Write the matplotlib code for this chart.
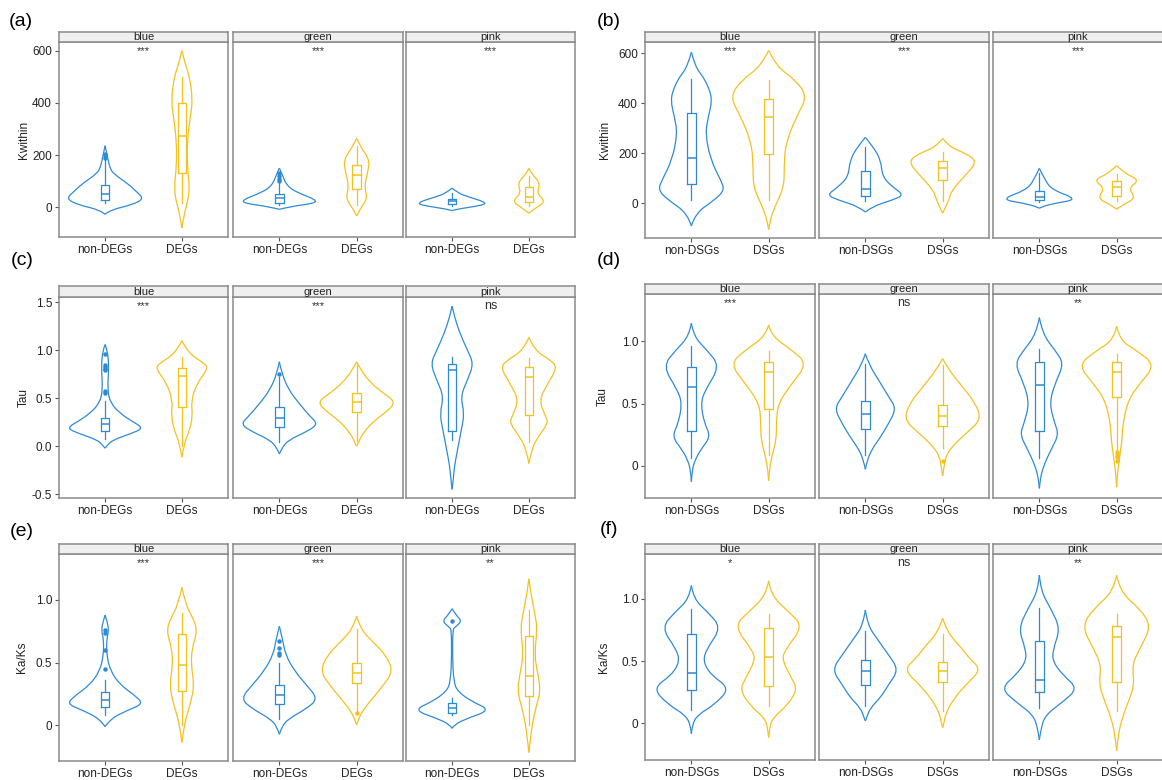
import matplotlib.pyplot as plt
from matplotlib.path import Path
from matplotlib.patches import PathPatch

plt.rcParams['font.family'] = ['Liberation Sans', 'DejaVu Sans']

W, H = 1162, 780
BLUE = '#2F8AD6'
GOLD = '#F5C11E'
EDGE = '#8a8a8a'

FACETS = ['blue', 'green', 'pink']
DE_GROUPS = ['non-DEGs', 'DEGs']
DS_GROUPS = ['non-DSGs', 'DSGs']

# each facet holds two groups: index 2*facet + group
# box stats: whisker low, q1, median, q3, whisker high
# violin: (value, half width) read from top tip to bottom tip

# (a) Kwithin, DEGs
a_sig = ['***', '***', '***']
a_box = [[15, 28, 50, 85, 180], [15, 130, 273, 400, 500],
         [10, 18, 34, 50, 95], [10, 69, 124, 162, 235],
         [3, 12, 23, 31, 55], [5, 19, 41, 79, 118]]
a_out = [[190, 200, 205], [], [100, 110, 120, 130], [], [], []]
a_vio = [
    [(236, 0), (180, 0.04), (155, 0.06), (130, 0.1), (92, 0.29), (54, 0.43), (32, 0.5), (9, 0.35), (-10, 0.07), (-27, 0)],
    [(600, 0), (550, 0.04), (500, 0.1), (411, 0.14), (347, 0.11), (258, 0.07), (156, 0.07), (80, 0.1), (28, 0.08), (-23, 0.03), (-80, 0)],
    [(150, 0), (130, 0.03), (80, 0.1), (54, 0.25), (28, 0.48), (15, 0.45), (3, 0.15), (-8, 0)],
    [(264, 0), (232, 0.05), (181, 0.17), (130, 0.14), (80, 0.1), (34, 0.14), (-4, 0.05), (-33, 0)],
    [(73, 0), (54, 0.08), (41, 0.2), (15, 0.48), (3, 0.3), (-8, 0.05), (-13, 0)],
    [(149, 0), (130, 0.03), (92, 0.15), (54, 0.1), (22, 0.22), (-4, 0.08), (-23, 0)],
]

# (b) Kwithin, DSGs
b_sig = ['***', '***', '***']
b_box = [[12, 75, 179, 360, 497], [12, 195, 343, 417, 493],
         [10, 29, 57, 127, 225], [10, 92, 139, 168, 205],
         [5, 12, 25, 49, 120], [10, 28, 65, 88, 115]]
b_out = [[], [], [], [], [], []]
b_vio = [
    [(604, 0), (547, 0.05), (506, 0.15), (466, 0.22), (413, 0.27), (346, 0.22), (279, 0.18), (172, 0.25), (92, 0.38), (52, 0.43), (12, 0.3), (-41, 0.05), (-92, 0)],
    [(611, 0), (547, 0.1), (493, 0.35), (426, 0.5), (346, 0.36), (239, 0.22), (146, 0.2), (65, 0.2), (-15, 0.08), (-68, 0.02), (-106, 0)],
    [(263, 0), (226, 0.1), (172, 0.2), (106, 0.22), (65, 0.35), (32, 0.5), (12, 0.35), (-15, 0.08), (-36, 0)],
    [(259, 0), (226, 0.08), (199, 0.3), (166, 0.45), (106, 0.28), (52, 0.12), (12, 0.08), (-21, 0.03), (-41, 0)],
    [(139, 0), (92, 0.07), (52, 0.17), (15, 0.5), (-1, 0.2), (-15, 0.03), (-21, 0)],
    [(150, 0), (119, 0.1), (92, 0.3), (59, 0.15), (19, 0.25), (-8, 0.07), (-25, 0)],
]

# (c) Tau, DEGs
c_sig = ['***', '***', 'ns']
c_box = [[0.08, 0.16, 0.23, 0.29, 0.47], [0.0, 0.41, 0.73, 0.82, 0.93],
         [0.04, 0.205, 0.29, 0.405, 0.72], [0.05, 0.36, 0.465, 0.55, 0.85],
         [0.07, 0.16, 0.79, 0.855, 0.93], [0.04, 0.325, 0.72, 0.83, 0.92]]
c_out = [[0.55, 0.58, 0.79, 0.81, 0.83, 0.85, 0.96], [], [0.75], [], [], []]
c_vio = [
    [(1.06, 0), (1.0, 0.03), (0.83, 0.05), (0.59, 0.03), (0.45, 0.07), (0.34, 0.2), (0.26, 0.35), (0.19, 0.5), (0.135, 0.35), (0.066, 0.1), (0.01, 0.03), (-0.02, 0)],
    [(1.10, 0), (0.97, 0.08), (0.86, 0.3), (0.81, 0.34), (0.66, 0.2), (0.48, 0.12), (0.31, 0.14), (0.17, 0.1), (0.03, 0.03), (-0.115, 0)],
    [(0.88, 0), (0.76, 0.03), (0.59, 0.12), (0.45, 0.25), (0.31, 0.4), (0.23, 0.5), (0.15, 0.35), (0.066, 0.12), (-0.02, 0.03), (-0.08, 0)],
    [(0.88, 0), (0.8, 0.05), (0.66, 0.18), (0.55, 0.35), (0.465, 0.5), (0.38, 0.42), (0.27, 0.23), (0.135, 0.08), (0.05, 0.03), (0.0, 0)],
    [(1.46, 0), (1.35, 0.03), (1.18, 0.1), (1.0, 0.2), (0.86, 0.28), (0.69, 0.2), (0.52, 0.11), (0.34, 0.16), (0.17, 0.12), (-0.04, 0.07), (-0.21, 0.03), (-0.39, 0.01), (-0.45, 0)],
    [(1.135, 0), (1.0, 0.07), (0.9, 0.28), (0.82, 0.37), (0.66, 0.25), (0.48, 0.13), (0.31, 0.22), (0.24, 0.25), (0.1, 0.12), (-0.04, 0.03), (-0.18, 0)],
]

# (d) Tau, DSGs
d_sig = ['***', 'ns', '**']
d_box = [[0.06, 0.28, 0.636, 0.79, 0.96], [0.09, 0.46, 0.754, 0.837, 0.92],
         [0.09, 0.294, 0.415, 0.524, 0.82], [0.14, 0.32, 0.404, 0.49, 0.81],
         [0.06, 0.28, 0.65, 0.83, 0.94], [0.12, 0.55, 0.757, 0.83, 0.9]]
d_out = [[], [], [], [0.04], [], [0.04, 0.07, 0.09, 0.11]]
d_vio = [
    [(1.145, 0), (1.04, 0.03), (0.93, 0.2), (0.8, 0.37), (0.61, 0.18), (0.5, 0.12), (0.34, 0.17), (0.235, 0.25), (0.13, 0.12), (0.05, 0.05), (-0.03, 0.01), (-0.126, 0)],
    [(1.13, 0), (1.04, 0.04), (0.93, 0.3), (0.82, 0.5), (0.66, 0.3), (0.5, 0.12), (0.34, 0.1), (0.21, 0.1), (0.075, 0.04), (-0.03, 0.01), (-0.118, 0)],
    [(0.9, 0), (0.82, 0.04), (0.66, 0.2), (0.556, 0.3), (0.46, 0.4), (0.34, 0.3), (0.235, 0.2), (0.13, 0.08), (0.035, 0.02), (-0.027, 0)],
    [(0.86, 0), (0.77, 0.08), (0.64, 0.25), (0.5, 0.43), (0.37, 0.5), (0.26, 0.3), (0.155, 0.12), (0.075, 0.04), (0.0, 0.02), (-0.08, 0)],
    [(1.19, 0), (1.06, 0.04), (0.93, 0.2), (0.82, 0.32), (0.66, 0.2), (0.5, 0.13), (0.34, 0.2), (0.25, 0.25), (0.13, 0.15), (-0.005, 0.05), (-0.11, 0.01), (-0.18, 0)],
    [(1.12, 0), (1.01, 0.04), (0.93, 0.25), (0.81, 0.5), (0.66, 0.3), (0.53, 0.15), (0.34, 0.08), (0.21, 0.07), (0.075, 0.04), (-0.06, 0.01), (-0.17, 0)],
]

# (e) Ka/Ks, DEGs
e_sig = ['***', '***', '**']
e_box = [[0.08, 0.147, 0.2, 0.267, 0.36], [0.0, 0.27, 0.48, 0.73, 0.9],
         [0.05, 0.168, 0.24, 0.32, 0.5], [0.1, 0.34, 0.42, 0.5, 0.77],
         [0.08, 0.1, 0.133, 0.173, 0.22], [0.0, 0.235, 0.395, 0.71, 0.92]]
e_out = [[0.45, 0.6, 0.74, 0.76], [], [0.56, 0.58, 0.62, 0.67], [0.1], [0.83], []]
e_vio = [
    [(0.88, 0), (0.84, 0.02), (0.76, 0.05), (0.69, 0.02), (0.56, 0.02), (0.43, 0.07), (0.32, 0.2), (0.24, 0.38), (0.17, 0.5), (0.12, 0.3), (0.05, 0.07), (-0.013, 0)],
    [(1.10, 0), (0.96, 0.05), (0.85, 0.15), (0.75, 0.2), (0.61, 0.13), (0.48, 0.12), (0.32, 0.16), (0.19, 0.12), (0.05, 0.05), (-0.05, 0.02), (-0.14, 0)],
    [(0.79, 0), (0.69, 0.04), (0.56, 0.08), (0.43, 0.2), (0.32, 0.35), (0.21, 0.5), (0.13, 0.35), (0.05, 0.12), (-0.013, 0.03), (-0.075, 0)],
    [(0.87, 0), (0.77, 0.05), (0.67, 0.2), (0.56, 0.38), (0.43, 0.47), (0.32, 0.35), (0.21, 0.2), (0.107, 0.07), (0.04, 0.02), (0.0, 0)],
    [(0.93, 0), (0.88, 0.05), (0.83, 0.13), (0.78, 0.03), (0.76, 0.01), (0.56, 0.005), (0.35, 0.02), (0.27, 0.07), (0.19, 0.25), (0.12, 0.5), (0.053, 0.2), (0.005, 0.03), (-0.027, 0)],
    [(1.17, 0), (1.07, 0.02), (0.88, 0.08), (0.77, 0.11), (0.56, 0.07), (0.4, 0.12), (0.27, 0.15), (0.16, 0.1), (0.027, 0.05), (-0.107, 0.02), (-0.22, 0)],
]

# (f) Ka/Ks, DSGs
f_sig = ['*', 'ns', '**']
f_box = [[0.11, 0.27, 0.4, 0.72, 0.92], [0.14, 0.3, 0.536, 0.764, 0.88],
         [0.14, 0.306, 0.418, 0.507, 0.74], [0.1, 0.33, 0.418, 0.496, 0.72],
         [0.12, 0.255, 0.346, 0.665, 0.93], [0.1, 0.335, 0.697, 0.785, 0.88]]
f_out = [[], [], [], [], [], []]
f_vio = [
    [(1.107, 0), (1.0, 0.03), (0.9, 0.2), (0.77, 0.39), (0.6, 0.2), (0.5, 0.15), (0.39, 0.25), (0.28, 0.5), (0.15, 0.3), (0.067, 0.08), (-0.013, 0.01), (-0.083, 0)],
    [(1.145, 0), (1.03, 0.03), (0.9, 0.25), (0.78, 0.45), (0.58, 0.2), (0.5, 0.18), (0.36, 0.3), (0.27, 0.37), (0.15, 0.25), (0.04, 0.05), (-0.04, 0.01), (-0.115, 0)],
    [(0.91, 0), (0.79, 0.03), (0.68, 0.15), (0.55, 0.3), (0.43, 0.43), (0.31, 0.3), (0.21, 0.2), (0.12, 0.06), (0.05, 0.02), (0.019, 0)],
    [(0.845, 0), (0.74, 0.05), (0.6, 0.25), (0.52, 0.35), (0.43, 0.5), (0.31, 0.3), (0.2, 0.15), (0.094, 0.05), (0.013, 0.02), (-0.035, 0)],
    [(1.19, 0), (1.06, 0.02), (0.92, 0.15), (0.76, 0.27), (0.6, 0.18), (0.5, 0.17), (0.39, 0.3), (0.28, 0.5), (0.17, 0.3), (0.067, 0.08), (-0.04, 0.02), (-0.134, 0)],
    [(1.19, 0), (1.06, 0.04), (0.92, 0.3), (0.78, 0.45), (0.6, 0.3), (0.47, 0.2), (0.31, 0.23), (0.17, 0.15), (0.04, 0.07), (-0.094, 0.02), (-0.22, 0)],
]

# pixel layout
LEFT_COLS = [(59, 228), (233, 403), (406, 575)]
RIGHT_COLS = [(645, 815), (819, 989), (993, 1163)]

panels = [
    # label, label xy, groups, ylabel, ylabel x px, ylim, ticks, ticklabels, cols, strip top, strip bottom, axes bottom, data
    ('(a)', (21, 21), DE_GROUPS, 'Kwithin', 30, (-114, 633), [0, 200, 400, 600], ['0', '200', '400', '600'],
     LEFT_COLS, 32, 42, 237, a_sig, a_box, a_out, a_vio),
    ('(b)', (609, 21), DS_GROUPS, 'Kwithin', 611, (-140, 645), [0, 200, 400, 600], ['0', '200', '400', '600'],
     RIGHT_COLS, 32, 42, 238, b_sig, b_box, b_out, b_vio),
    ('(c)', (22, 261), DE_GROUPS, 'Tau', 30, (-0.539, 1.555), [-0.5, 0, 0.5, 1.0, 1.5], ['-0.5', '0.0', '0.5', '1.0', '1.5'],
     LEFT_COLS, 286, 297, 498, c_sig, c_box, c_out, c_vio),
    ('(d)', (609, 261), DS_GROUPS, 'Tau', 609, (-0.257, 1.379), [0, 0.5, 1.0], ['0', '0.5', '1.0'],
     RIGHT_COLS, 284, 294, 498, d_sig, d_box, d_out, d_vio),
    ('(e)', (22, 532), DE_GROUPS, 'Ka/Ks', 28, (-0.288, 1.368), [0, 0.5, 1.0], ['0', '0.5', '1.0'],
     LEFT_COLS, 544, 554, 761, e_sig, e_box, e_out, e_vio),
    ('(f)', (609, 530), DS_GROUPS, 'Ka/Ks', 610, (-0.295, 1.36), [0, 0.5, 1.0], ['0', '0.5', '1.0'],
     RIGHT_COLS, 544, 554, 760, f_sig, f_box, f_out, f_vio),
]


def px_axes(fig, x0, y0, x1, y1):
    return fig.add_axes([x0 / W, 1 - y1 / H, (x1 - x0) / W, (y1 - y0) / H])


def smooth_side(pts):
    # quadratic bezier through the read points: each inner point is a control point
    verts = [pts[0]]
    codes = [Path.MOVETO]
    for a, b in zip(pts[1:-2], pts[2:-1]):
        mid = ((a[0] + b[0]) / 2, (a[1] + b[1]) / 2)
        verts += [a, mid]
        codes += [Path.CURVE3, Path.CURVE3]
    verts += [pts[-2], pts[-1]]
    codes += [Path.CURVE3, Path.CURVE3]
    return verts, codes


def draw_violin(ax, pos, profile, color):
    right = [(pos + w, y) for y, w in profile]
    left = [(pos - w, y) for y, w in profile]
    vr, cr = smooth_side(right)
    vl, cl = smooth_side(left)
    ax.add_patch(PathPatch(Path(vr, cr), facecolor='none', edgecolor=color, lw=0.9))
    ax.add_patch(PathPatch(Path(vl, cl), facecolor='none', edgecolor=color, lw=0.9))


fig = plt.figure(figsize=(W / 100, H / 100), dpi=100)

for (label, lxy, groups, ylabel, ylx, ylim, ticks, tlabels, cols,
     s_top, s_bot, a_bot, sig, box, out, vio) in panels:
    fig.text(lxy[0] / W, 1 - lxy[1] / H, label, fontsize=14, ha='center', va='center')
    for i, (x0, x1) in enumerate(cols):
        ax = px_axes(fig, x0, s_bot, x1, a_bot)
        for j, color in enumerate([BLUE, GOLD]):
            k = 2 * i + j
            pos = j + 1
            draw_violin(ax, pos, vio[k], color)
            lo, q1, med, q3, hi = box[k]
            stats = [dict(whislo=lo, q1=q1, med=med, q3=q3, whishi=hi, fliers=out[k])]
            ax.bxp(stats, positions=[pos], widths=0.11, showcaps=False, showfliers=True,
                   boxprops=dict(color=color, lw=0.9),
                   whiskerprops=dict(color=color, lw=0.9),
                   medianprops=dict(color=color, lw=1.1),
                   flierprops=dict(marker='o', ms=2.2, mfc=color, mec=color))
        ax.set_xlim(0.4, 2.6)
        ax.set_ylim(*ylim)
        ax.set_xticks([1, 2])
        ax.set_xticklabels(groups)
        ax.set_yticks(ticks)
        ax.set_yticklabels(tlabels)
        ax.tick_params(length=3, width=0.8, color='#555555', labelsize=8.5,
                       labelcolor='#222222', pad=2)
        if i > 0:
            ax.tick_params(axis='y', left=False, labelleft=False)
        else:
            ax.set_ylabel(ylabel, fontsize=8.5, color='#222222')
            ax.yaxis.set_label_coords((ylx - x0) / (x1 - x0), 0.5)
        for sp in ax.spines.values():
            sp.set_color(EDGE)
            sp.set_linewidth(1.1)
        h_px = a_bot - s_bot
        ax.text(0.5, 1 - 9 / h_px, sig[i], transform=ax.transAxes, ha='center',
                va='center', fontsize=8 if sig[i] != 'ns' else 9, color='#333333')

        sax = px_axes(fig, x0, s_top, x1, s_bot)
        sax.set_facecolor('#EFEFEF')
        sax.set_xticks([])
        sax.set_yticks([])
        for sp in sax.spines.values():
            sp.set_color(EDGE)
            sp.set_linewidth(1.1)
        sax.text(0.5, 0.45, FACETS[i], transform=sax.transAxes, ha='center',
                 va='center', fontsize=8, color='#222222')

fig.savefig('out.png', dpi=100)
